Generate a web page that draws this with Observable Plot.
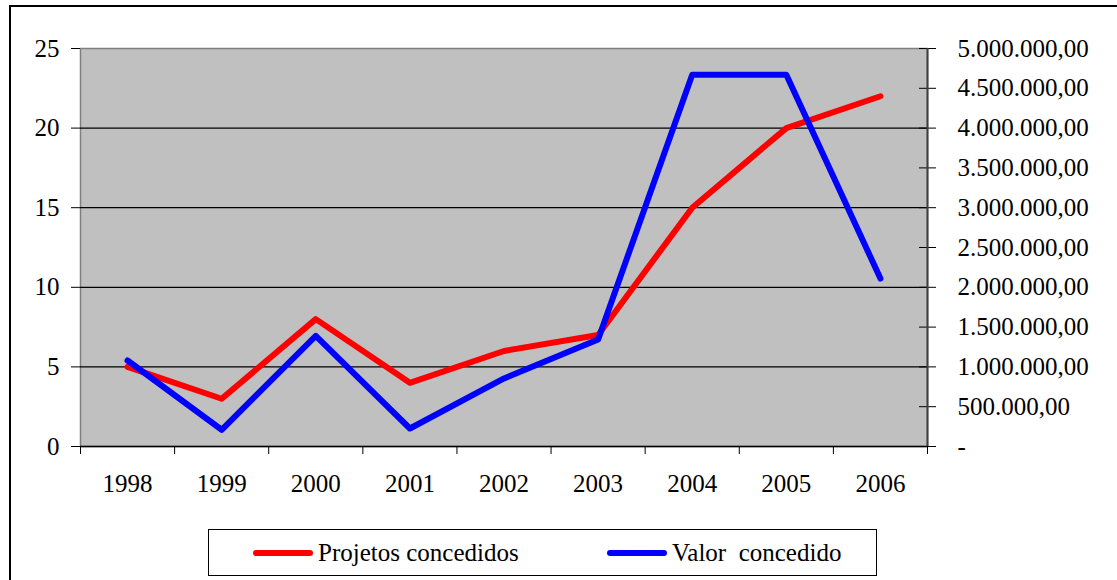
<!DOCTYPE html>
<html>
<head>
<meta charset="utf-8">
<script src="https://cdn.jsdelivr.net/npm/d3@7"></script>
<script src="https://cdn.jsdelivr.net/npm/@observablehq/plot@0.6"></script>
<style>
  html, body { margin: 0; padding: 0; background: #fff; }
  #wrap { position: relative; width: 1117px; height: 580px; overflow: hidden; font-family: "Liberation Serif", Tinos, "Times New Roman", Times, "DejaVu Serif", serif; }
  #frameTop { position: absolute; left: 9px; top: 5px; width: 1120px; height: 0; border-top: 2px solid #000; }
  #frameLeft { position: absolute; left: 9px; top: 5px; width: 0; height: 600px; border-left: 2px solid #000; }
  #legend { position: absolute; left: 208px; top: 529px; width: 669px; height: 47px; border: 1px solid #000; box-sizing: border-box; background: #fff; }
  .item { position: absolute; top: 0; height: 45px; display: flex; align-items: center; font-size: 25px; color: #000; }
  .sw { display: inline-block; width: 60px; height: 6px; border-radius: 3px; margin-right: 5px; }
</style>
</head>
<body>
<div id="wrap">
  <div id="chart"></div>
  <div id="frameTop"></div>
  <div id="frameLeft"></div>
  <div id="legend"></div>
</div>
<script>
const years = [1998, 1999, 2000, 2001, 2002, 2003, 2004, 2005, 2006];
const projetos = [5, 3, 8, 4, 6, 7, 15, 20, 22];
const valor = [1080000, 210000, 1390000, 226000, 855000, 1345000, 4670000, 4670000, 2110000];
const leftTicks = [0, 5, 10, 15, 20, 25];
const rightTicks = [0, 500000, 1000000, 1500000, 2000000, 2500000, 3000000, 3500000, 4000000, 4500000, 5000000];
const seriesNames = ["Projetos concedidos", "Valor  concedido"];
const seriesColors = ["#ff0000", "#0000ff"];

const leftMax = 25, rightMax = 5000000;
const scaleR = leftMax / rightMax;

const loc = d3.formatLocale({decimal: ",", thousands: ".", grouping: [3], currency: ["", ""]});
const fmt = loc.format(",.2f");

const dataP = years.map((y, i) => ({year: y, v: projetos[i]}));
const dataV = years.map((y, i) => ({year: y, v: valor[i] * scaleR}));
const bounds = years.map(y => y - 0.5).concat([years[years.length - 1] + 0.5]);
const gridVals = leftTicks.filter(t => t > 0 && t < leftMax);
const serif = '"Liberation Serif", Tinos, "Times New Roman", Times, "DejaVu Serif", serif';

const chart = Plot.plot({
  width: 1117,
  height: 580,
  marginLeft: 80,
  marginRight: 190,
  marginTop: 48,
  marginBottom: 134,
  style: {fontFamily: serif, fontSize: "25px", color: "#000", background: "transparent"},
  x: {type: "linear", domain: [bounds[0], bounds[bounds.length - 1]]},
  y: {type: "linear", domain: [0, leftMax]},
  marks: [
    Plot.frame({fill: "#c0c0c0", stroke: "#808080", strokeWidth: 1.5}),
    Plot.ruleY(gridVals, {stroke: "#000", strokeWidth: 1.2}),
    Plot.ruleY([0], {stroke: "#000", strokeWidth: 1.5}),
    Plot.axisY(leftTicks, {anchor: "left", tickSize: 9, tickPadding: 12, tickFormat: d => String(d), label: null, stroke: "#000", fontSize: 25}),
    Plot.axisY(rightTicks.map(t => t * scaleR), {anchor: "right", tickSize: 8, tickPadding: 22, textAnchor: "start", tickFormat: d => d === 0 ? "-" : fmt(d / scaleR), label: null, stroke: "#000", fontSize: 25}),
    Plot.axisY(rightTicks.map(t => t * scaleR), {anchor: "right", tickSize: -9, tickFormat: () => "", label: null, stroke: "#000"}),
    Plot.ruleX([bounds[bounds.length - 1]], {y1: 0, y2: leftMax, stroke: "#404040", strokeWidth: 2}),
    Plot.axisX(bounds, {anchor: "bottom", tickSize: 8, tickFormat: () => "", label: null, stroke: "#000"}),
    Plot.axisX(years, {anchor: "bottom", tickSize: 0, tickPadding: 28, tickFormat: d => String(d), label: null, fontSize: 25}),
    Plot.line(dataP, {x: "year", y: "v", stroke: seriesColors[0], strokeWidth: 6, strokeLinejoin: "round", strokeLinecap: "round"}),
    Plot.line(dataV, {x: "year", y: "v", stroke: seriesColors[1], strokeWidth: 6, strokeLinejoin: "round", strokeLinecap: "round"})
  ]
});
document.getElementById("chart").appendChild(chart);

const legend = document.getElementById("legend");
const lefts = [44, 398];
seriesNames.forEach((name, i) => {
  const it = document.createElement("div");
  it.className = "item";
  it.style.left = lefts[i] + "px";
  const sw = document.createElement("span");
  sw.className = "sw";
  sw.style.background = seriesColors[i];
  it.appendChild(sw);
  const tx = document.createElement("span");
  tx.textContent = name;
  tx.style.whiteSpace = "pre";
  it.appendChild(tx);
  legend.appendChild(it);
});
</script>
</body>
</html>
